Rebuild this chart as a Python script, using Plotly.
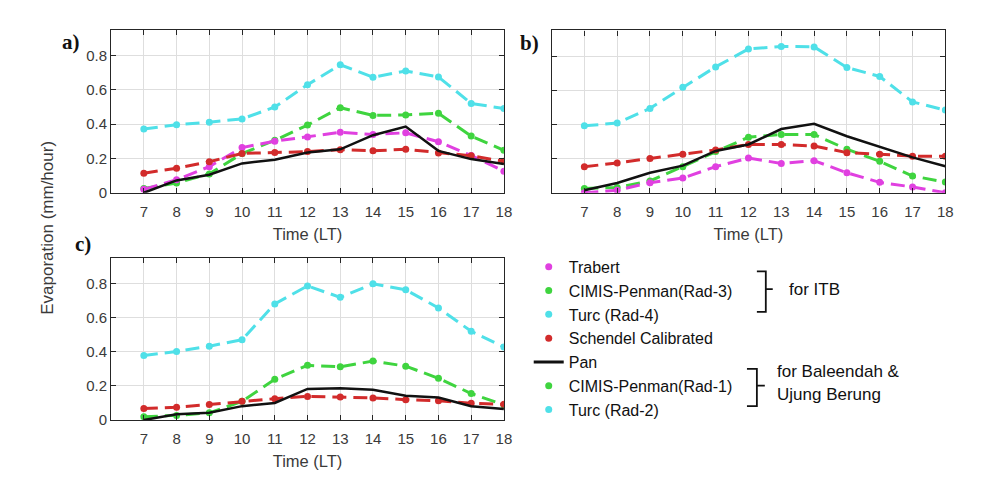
import plotly.graph_objects as go

W, H = 997, 487

hours = [7, 8, 9, 10, 11, 12, 13, 14, 15, 16, 17, 18]
x_ticks = [7, 8, 9, 10, 11, 12, 13, 14, 15, 16, 17, 18]
y_ticks = [0, 0.2, 0.4, 0.6, 0.8]
y_tick_text = ["0", "0.2", "0.4", "0.6", "0.8"]

# Panel a)
a_trabert = [0.02, 0.076, 0.152, 0.263, 0.30, 0.324, 0.352, 0.339, 0.349, 0.297, 0.217, 0.126]
a_cimis = [0.025, 0.057, 0.11, 0.228, 0.305, 0.394, 0.495, 0.45, 0.453, 0.463, 0.33, 0.247]
a_turc = [0.371, 0.396, 0.411, 0.43, 0.499, 0.629, 0.745, 0.672, 0.709, 0.674, 0.52, 0.49]
a_schendel = [0.114, 0.143, 0.181, 0.229, 0.234, 0.24, 0.251, 0.244, 0.253, 0.232, 0.215, 0.183]
a_pan = [0.0, 0.072, 0.105, 0.171, 0.192, 0.234, 0.253, 0.335, 0.385, 0.244, 0.196, 0.167]

# Panel b)
b_trabert = [0.0, 0.015, 0.059, 0.086, 0.153, 0.203, 0.172, 0.188, 0.117, 0.061, 0.034, 0.0]
b_cimis = [0.025, 0.031, 0.069, 0.153, 0.241, 0.325, 0.341, 0.341, 0.255, 0.184, 0.098, 0.063]
b_turc = [0.392, 0.408, 0.494, 0.618, 0.737, 0.842, 0.857, 0.854, 0.733, 0.681, 0.532, 0.484]
b_schendel = [0.153, 0.174, 0.201, 0.226, 0.251, 0.283, 0.283, 0.274, 0.235, 0.226, 0.214, 0.214]
b_pan = [0.015, 0.057, 0.117, 0.159, 0.245, 0.283, 0.373, 0.404, 0.331, 0.268, 0.207, 0.155]

# Panel c)
c_cimis = [0.019, 0.027, 0.042, 0.109, 0.238, 0.32, 0.311, 0.345, 0.315, 0.244, 0.155, 0.088]
c_turc = [0.378, 0.401, 0.432, 0.47, 0.679, 0.785, 0.718, 0.797, 0.762, 0.656, 0.519, 0.427]
c_schendel = [0.067, 0.075, 0.09, 0.109, 0.125, 0.138, 0.134, 0.129, 0.119, 0.113, 0.098, 0.092]
c_pan = [0.0, 0.033, 0.042, 0.081, 0.10, 0.182, 0.186, 0.177, 0.142, 0.132, 0.08, 0.065]

legend_names = ["Trabert", "CIMIS-Penman(Rad-3)", "Turc (Rad-4)", "Schendel Calibrated",
                "Pan", "CIMIS-Penman(Rad-1)", "Turc (Rad-2)"]

MAGENTA = "#e040e0"
GREEN = "#3fd43f"
CYAN = "#4fe0e8"
RED = "#d22b2b"
BLACK = "#111111"

FONT = "Liberation Sans, Arial, sans-serif"
SERIF = "Liberation Serif, Times New Roman, serif"
DASH = "14px,7px"


def px(x):
    return x / W


def py(y):
    return 1 - y / H


fig = go.Figure()


def dashed(xa, ya, y, color):
    fig.add_trace(go.Scatter(x=hours, y=y, xaxis=xa, yaxis=ya, mode="lines+markers",
                             line=dict(color=color, width=3, dash=DASH),
                             marker=dict(color=color, size=7), showlegend=False,
                             hoverinfo="x+y"))


def solid(xa, ya, y):
    fig.add_trace(go.Scatter(x=hours, y=y, xaxis=xa, yaxis=ya, mode="lines",
                             line=dict(color=BLACK, width=2.5), showlegend=False))


# panel a
dashed("x", "y", a_turc, CYAN)
dashed("x", "y", a_cimis, GREEN)
dashed("x", "y", a_trabert, MAGENTA)
dashed("x", "y", a_schendel, RED)
solid("x", "y", a_pan)
# panel b
dashed("x2", "y2", b_turc, CYAN)
dashed("x2", "y2", b_cimis, GREEN)
dashed("x2", "y2", b_trabert, MAGENTA)
dashed("x2", "y2", b_schendel, RED)
solid("x2", "y2", b_pan)
# panel c
dashed("x3", "y3", c_turc, CYAN)
dashed("x3", "y3", c_cimis, GREEN)
dashed("x3", "y3", c_schendel, RED)
solid("x3", "y3", c_pan)

# legend entries (key only)
leg_colors = [MAGENTA, GREEN, CYAN, RED, BLACK, GREEN, CYAN]
for name, col in zip(legend_names, leg_colors):
    if name == "Pan":
        fig.add_trace(go.Scatter(x=[None], y=[None], mode="lines", name=name,
                                 line=dict(color=col, width=3), showlegend=True))
    else:
        fig.add_trace(go.Scatter(x=[None], y=[None], mode="markers", name=name,
                                 marker=dict(color=col, size=7), showlegend=True))

axis_common = dict(range=[6, 18], tickvals=x_ticks, ticks="inside", ticklen=5,
                   tickcolor="#262626", showline=True, linecolor="#262626", linewidth=1.2,
                   mirror="ticks", showgrid=True, gridcolor="#dedede", gridwidth=1,
                   zeroline=False, tickfont=dict(family=FONT, size=15, color="#3a3a3a"),
                   ticklabelstandoff=5,
                   title=dict(text="Time (LT)", font=dict(family=FONT, size=16.5, color="#3a3a3a"),
                              standoff=9))
yaxis_common = dict(range=[0, 0.95], tickvals=y_ticks, ticktext=y_tick_text, ticks="inside",
                    ticklen=5, tickcolor="#262626", showline=True, linecolor="#262626",
                    linewidth=1.2, mirror="ticks", showgrid=True, gridcolor="#dedede",
                    zeroline=False, tickfont=dict(family=FONT, size=15, color="#3a3a3a"))

fig.update_layout(
    width=W, height=H, margin=dict(l=0, r=0, t=0, b=0),
    paper_bgcolor="white", plot_bgcolor="white",
    xaxis=dict(domain=[px(112), px(508)], anchor="y", **axis_common),
    yaxis=dict(domain=[py(196), py(30)], anchor="x", **yaxis_common),
    xaxis2=dict(domain=[px(556), px(953)], anchor="y2", **axis_common),
    yaxis2=dict(domain=[py(196), py(31)], anchor="x2", showticklabels=False, **yaxis_common),
    xaxis3=dict(domain=[px(112), px(508)], anchor="y3", **axis_common),
    yaxis3=dict(domain=[py(427), py(262)], anchor="x3", **yaxis_common),
    legend=dict(x=px(533), y=py(254), xanchor="left", yanchor="top",
                font=dict(family=FONT, size=16, color="#111111"),
                bgcolor="rgba(0,0,0,0)", itemwidth=30, tracegroupgap=0,
                traceorder="normal"),
    showlegend=True,
)

annotations = [
    dict(text="Evaporation (mm/hour)", x=px(48), y=py(232), textangle=-90,
         font=dict(family=FONT, size=17, color="#3a3a3a")),
    dict(text="<b>a)</b>", x=px(72), y=py(43), font=dict(family=SERIF, size=21, color="#111111")),
    dict(text="<b>b)</b>", x=px(534), y=py(44), font=dict(family=SERIF, size=21, color="#111111")),
    dict(text="<b>c)</b>", x=px(84), y=py(248), font=dict(family=SERIF, size=21, color="#111111")),
    dict(text="for ITB", x=px(793), y=py(294), xanchor="left",
         font=dict(family=FONT, size=17, color="#111111")),
    dict(text="for Baleendah &", x=px(781), y=py(378), xanchor="left",
         font=dict(family=FONT, size=17, color="#111111")),
    dict(text="Ujung Berung", x=px(781), y=py(401), xanchor="left",
         font=dict(family=FONT, size=17, color="#111111")),
]
for a in annotations:
    a.setdefault("xanchor", "center")
    a.update(xref="paper", yref="paper", yanchor="middle", showarrow=False)
fig.update_layout(annotations=annotations)


def bracket(x0, x1, xt, y0, ym, y1):
    path = (f"M {px(x0)},{py(y0)} L {px(x1)},{py(y0)} L {px(x1)},{py(y1)} "
            f"L {px(x0)},{py(y1)} M {px(x1)},{py(ym)} L {px(xt)},{py(ym)}")
    return dict(type="path", xref="paper", yref="paper", path=path,
                line=dict(color="#111111", width=1.8))


fig.update_layout(shapes=[bracket(763, 772, 779, 276, 294, 317),
                          bracket(753, 763, 771, 375, 392, 413)])

fig.write_html("out.html")
